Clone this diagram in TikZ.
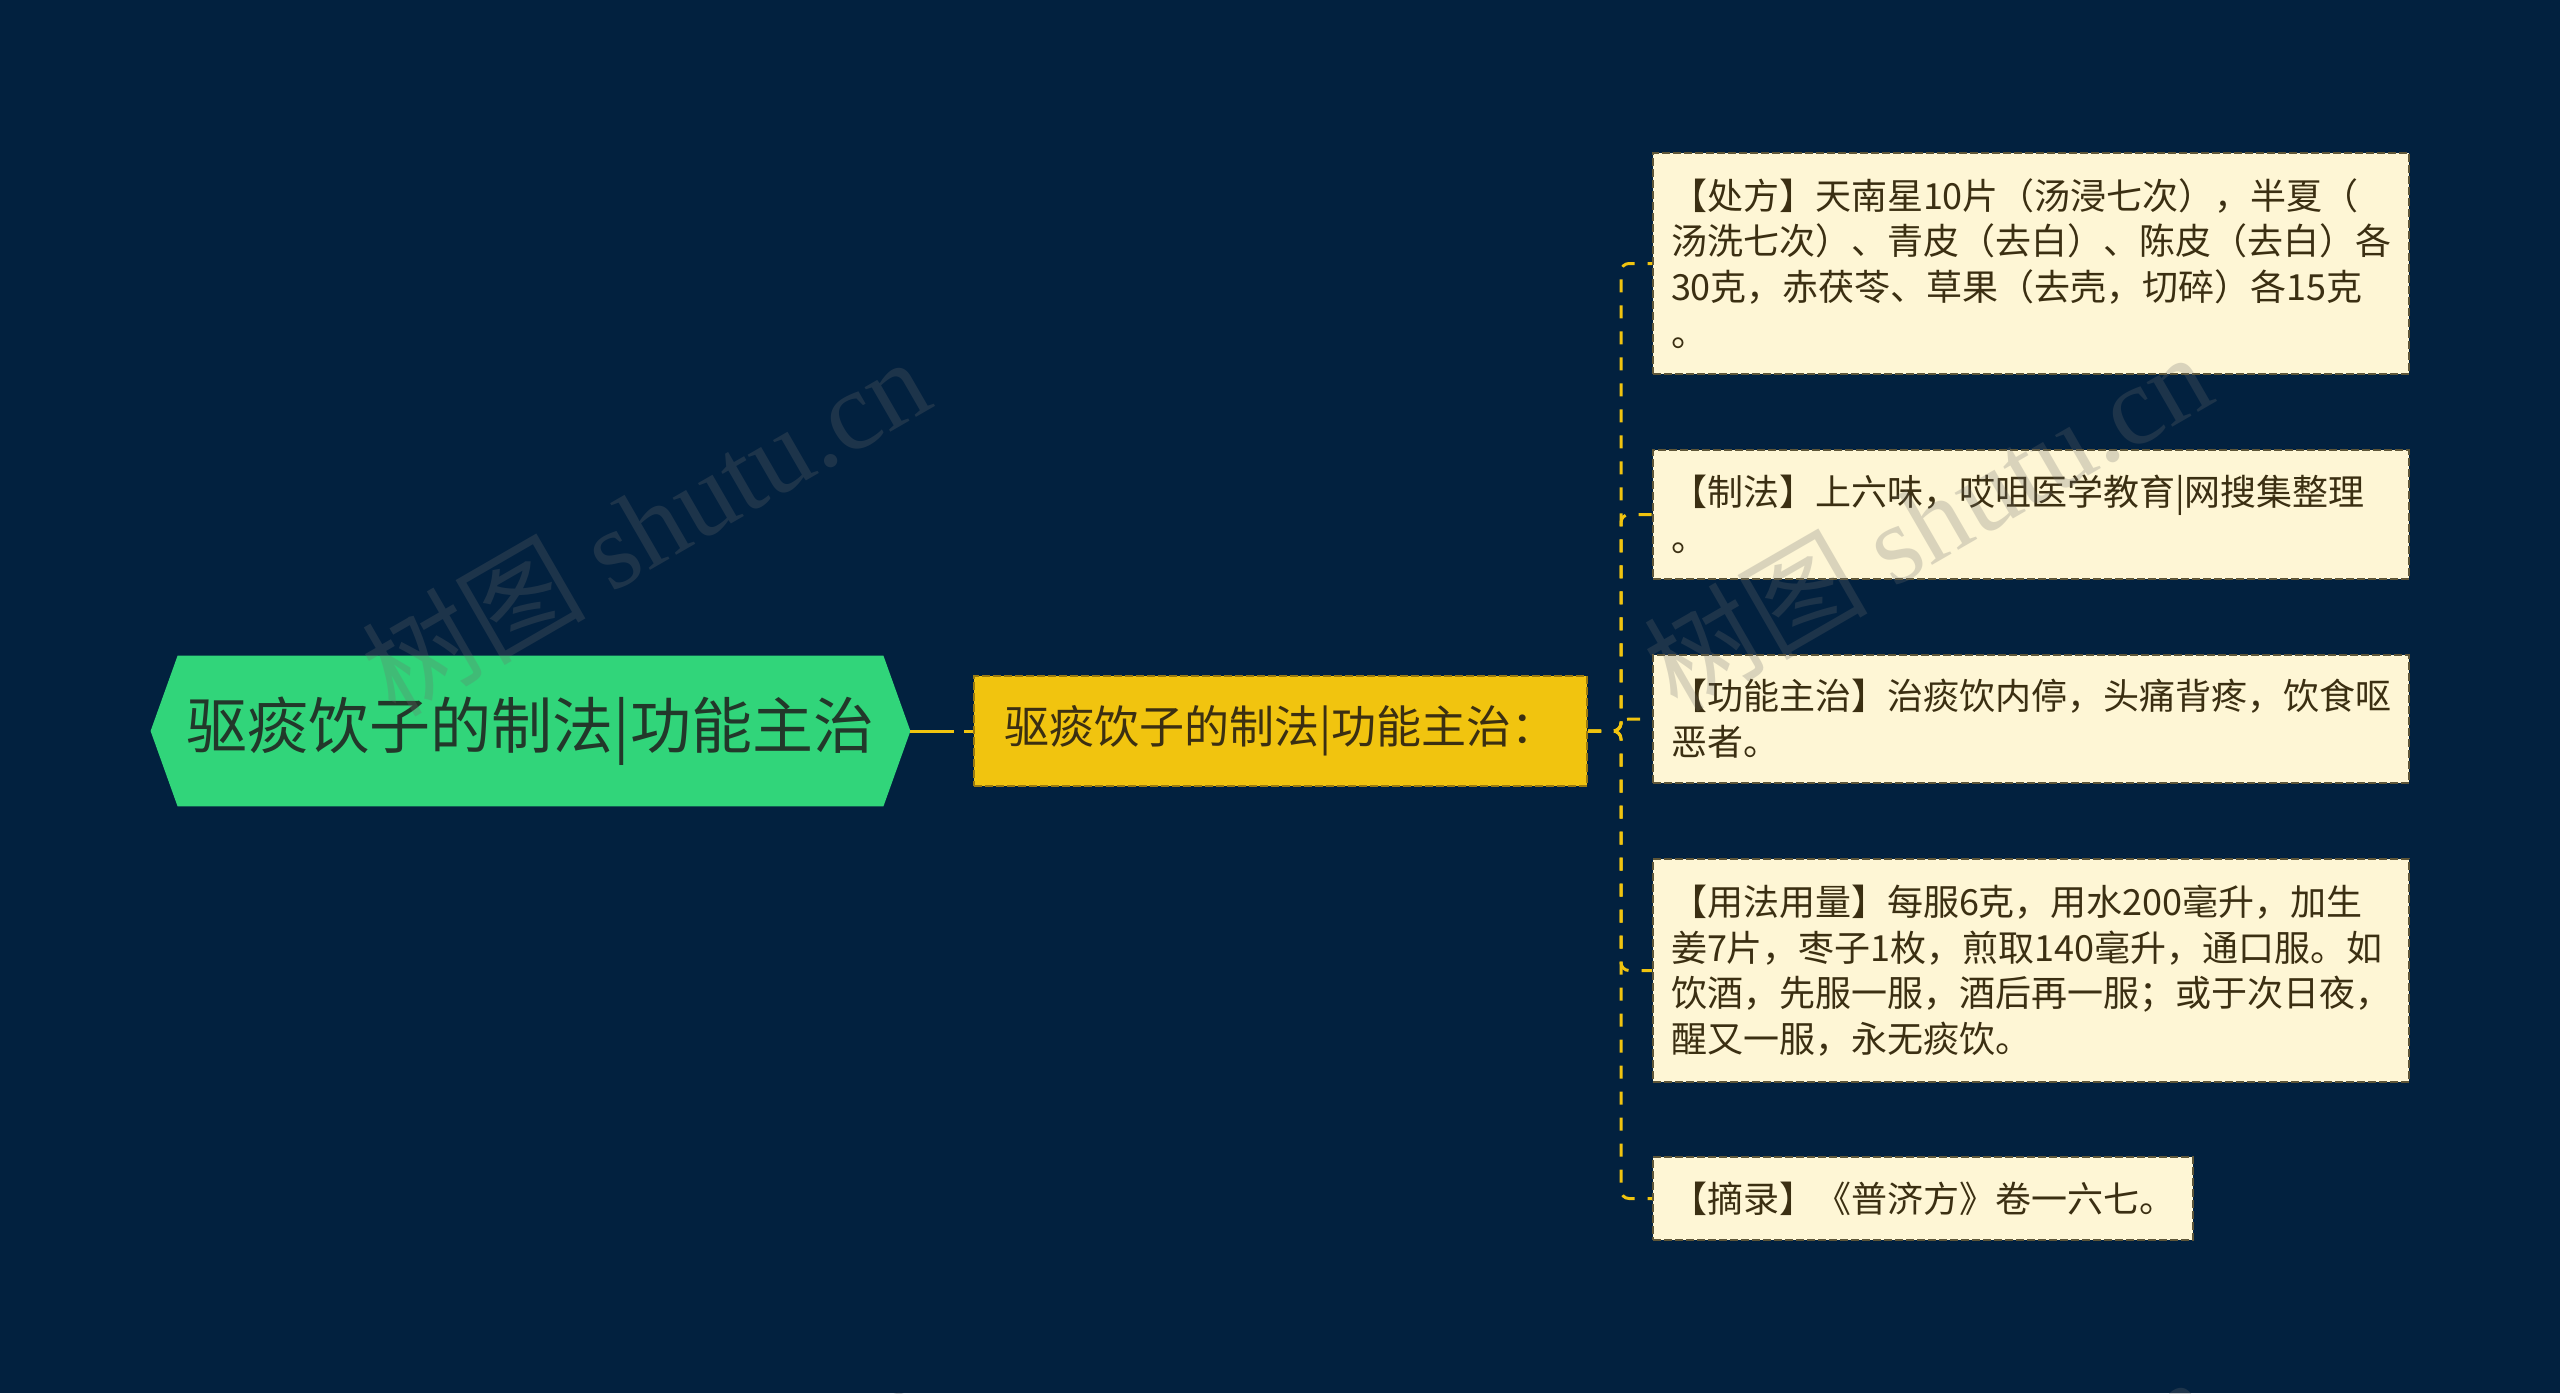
\documentclass[tikz,border=0pt]{standalone}
\usepackage{fontspec}
\setmainfont{Noto Sans CJK SC}
\newfontfamily\wmfont{Liberation Serif}
\usetikzlibrary{positioning, calc, backgrounds}
\definecolor{bgnavy}{HTML}{02213F}
\definecolor{rootgreen}{HTML}{31D57A}
\definecolor{rootink}{HTML}{22382A}
\definecolor{subgold}{HTML}{F1C40F}
\definecolor{subedge}{HTML}{9A7A10}
\definecolor{leafcream}{HTML}{FEF6D5}
\definecolor{leafedge}{HTML}{5E5638}
\definecolor{inkbrown}{HTML}{3B2F12}
\definecolor{linkgold}{HTML}{F1C40F}
\definecolor{wmgray}{HTML}{6E6E6E}
\tikzstyle{rootnode} = [rectangle, minimum width=379.5pt, minimum height=75pt, inner sep=0pt, text=rootink, font=\fontsize{30.5}{36}\selectfont]
\tikzstyle{subnode} = [rectangle, fill=subgold, draw=subedge, line width=1pt, dash pattern=on 4pt off 1.5pt, minimum width=306.5pt, minimum height=55pt, inner sep=0pt, text=inkbrown, font=\fontsize{22.5}{27}\selectfont]
\tikzstyle{leaf} = [rectangle, anchor=west, fill=leafcream, draw=leafedge, line width=1pt, dash pattern=on 4pt off 1.5pt, text width=360pt, align=left, inner xsep=9pt, inner ysep=0pt, text=inkbrown, font=\fontsize{18}{22.85}\selectfont]
\tikzstyle{link} = [draw=linkgold, line width=1.5pt, dash pattern=on 6.5pt off 6.5pt, rounded corners=4pt]
\tikzstyle{watermark} = [rotate=30, text=wmgray, opacity=0.25, font=\fontsize{56}{60}\selectfont]

\begin{document}
\begin{tikzpicture}[x=0.5pt, y=-0.5pt]
        \useasboundingbox (0,0) rectangle (2560,1393);
        \begin{scope}[on background layer]
            \fill[bgnavy] (0,0) rectangle (2560,1393);
        \end{scope}
        % root and its one child
        \node (root) [rootnode] at (530.5,731) {驱痰饮子的制法|功能主治};
        \begin{scope}[on background layer]
            \fill[rootgreen] (root.west) -- ($(root.north west)+(27,0)$) -- ($(root.north east)+(-27,0)$)
                -- (root.east) -- ($(root.south east)+(-27,0)$) -- ($(root.south west)+(27,0)$) -- cycle;
        \end{scope}
        \node (sub) [subnode] at (1280.5,731) {驱痰饮子的制法|功能主治：};
        \draw [link, dash pattern=on 22pt off 5pt] (root.east) -- (sub.west);

        % leaves
        \node (leaf1) [leaf, minimum height=110.5pt] at (1652,263.5) {【处方】天南星10片（汤浸七次），半夏（\\汤洗七次）、青皮（去白）、陈皮（去白）各\\30克，赤茯苓、草果（去壳，切碎）各15克\\。};
        \node (leaf2) [leaf, minimum height=64.5pt] at (1652,514.5) {【制法】上六味，哎咀医学教育|网搜集整理\\。};
        \node (leaf3) [leaf, minimum height=64pt] at (1652,719) {【功能主治】治痰饮内停，头痛背疼，饮食呕\\恶者。};
        \node (leaf4) [leaf, minimum height=111.5pt] at (1652,970.5) {【用法用量】每服6克，用水200毫升，加生\\姜7片，枣子1枚，煎取140毫升，通口服。如\\饮酒，先服一服，酒后再一服；或于次日夜，\\醒又一服，永无痰饮。};
        \node (leaf5) [leaf, minimum height=41.5pt, text width=252pt] at (1652,1198.5) {【摘录】《普济方》卷一六七。};

        % sub -> leaves
        \foreach \leafname in {leaf1,leaf2,leaf3,leaf4,leaf5}
            \draw [link] (sub.east) -- ($(sub.east)+(33,0)$) |- (\leafname.west);

        % watermarks
        \begin{scope}
            \clip (0,0) rectangle (2560,1393);
            \node (wm1) [watermark] at (645,525) {树图 {\wmfont shutu.cn}};
            \node (wm2) [watermark] at (1927,520) {树图 {\wmfont shutu.cn}};
            \node (wm3) [watermark] at (645,1550) {树图 {\wmfont shutu.cn}};
            \node (wm4) [watermark] at (1927,1545) {树图 {\wmfont shutu.cn}};
        \end{scope}
\end{tikzpicture}
\end{document}
